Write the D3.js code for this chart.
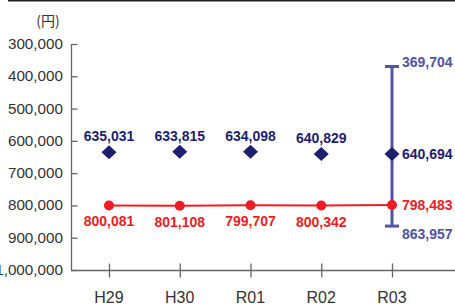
<!DOCTYPE html>
<html><head><meta charset="utf-8">
<script src="https://cdn.jsdelivr.net/npm/d3@7"></script>
<style>
html,body{margin:0;padding:0;background:#fff;}
svg{display:block;}
text{font-family:"Liberation Sans",Arial,Helvetica,sans-serif;}
</style></head>
<body>
<svg id="c" width="455" height="306"></svg>
<script>
const categories = ["H29","H30","R01","R02","R03"];
const blueValues = [635031, 633815, 634098, 640829, 640694];
const redValues = [800081, 801108, 799707, 800342, 798483];
const rangeMax = 369704; // top of bar (smaller value, axis reversed)
const rangeMin = 863957;
const yTicks = [300000,400000,500000,600000,700000,800000,900000,1000000];
const unitLabel = "(円)";

const svg = d3.select("#c");
const navy = "#1e1e6e", slate = "#5353a3", red = "#ee1c24", axisCol = "#666";
const fmt = d3.format(",");

const y = d3.scaleLinear().domain([300000,1000000]).range([44,270]);
const x = d3.scalePoint().domain(categories).range([109,392]);

// top rule
svg.append("line").attr("x1",8).attr("x2",455).attr("y1",0.8).attr("y2",0.8)
  .attr("stroke","#222").attr("stroke-width",1.6);

// unit label
svg.append("text").attr("x",48).attr("y",26).attr("text-anchor","middle")
  .attr("font-size",14).attr("fill","#333")
  .style("font-family","'Noto Sans CJK JP','Liberation Sans',sans-serif").text(unitLabel);

// y axis
const yAxis = d3.axisRight(y).tickValues(yTicks).tickSize(6).tickFormat("");
const gy = svg.append("g").attr("transform","translate(71.5,0)").call(yAxis);
gy.select(".domain").attr("stroke",axisCol).attr("stroke-width",1.3).attr("d","M0,44V270");
gy.selectAll(".tick line").attr("stroke",axisCol).attr("stroke-width",1.3);
svg.append("g").selectAll("text").data(yTicks).join("text")
  .attr("transform",d=>`translate(63,${y(d)+5}) scale(1.09,1)`)
  .attr("text-anchor","end")
  .attr("font-size",14).attr("fill","#333")
  .text(d=>fmt(d));

// x axis
const xAxis = d3.axisBottom(x).tickSize(0).tickFormat("");
const gx = svg.append("g").attr("transform","translate(0,270.5)").call(xAxis);
gx.select(".domain").attr("stroke",axisCol).attr("stroke-width",1.3).attr("d","M71,0H455");
gx.selectAll(".tick line").attr("stroke",axisCol).attr("stroke-width",1.3).attr("y1",-7).attr("y2",7);
svg.append("g").selectAll("text").data(categories).join("text")
  .attr("x",d=>x(d)).attr("y",303).attr("text-anchor","middle")
  .attr("font-size",16).attr("fill","#333").text(d=>d);

// error bar for R03
const xe = x("R03");
const eb = svg.append("g").attr("stroke",slate).attr("stroke-width",3);
eb.append("line").attr("x1",xe).attr("x2",xe).attr("y1",y(rangeMax)).attr("y2",y(rangeMin));
eb.append("line").attr("x1",xe-7).attr("x2",xe+7).attr("y1",y(rangeMax)).attr("y2",y(rangeMax));
eb.append("line").attr("x1",xe-7).attr("x2",xe+7).attr("y1",y(rangeMin)).attr("y2",y(rangeMin));

// red line + points
const data = categories.map((c,i)=>({c, b:blueValues[i], r:redValues[i]}));
svg.append("path").datum(data)
  .attr("d", d3.line().x(d=>x(d.c)).y(d=>y(d.r)))
  .attr("fill","none").attr("stroke",red).attr("stroke-width",2);
svg.append("g").selectAll("circle").data(data).join("circle")
  .attr("cx",d=>x(d.c)).attr("cy",d=>y(d.r)).attr("r",5).attr("fill",red);

// diamonds
svg.append("g").selectAll("path").data(data).join("path")
  .attr("transform",d=>`translate(${x(d.c)},${y(d.b)})`)
  .attr("d","M0,-7L7.5,0L0,7L-7.5,0Z").attr("fill",navy);

const lblFont = 14;
// blue labels (above) for first four
svg.append("g").selectAll("text").data(data.slice(0,4)).join("text")
  .attr("x",d=>x(d.c)).attr("y",d=>y(d.b)-11).attr("text-anchor","middle")
  .attr("font-size",lblFont).attr("font-weight","bold").attr("fill",navy)
  .text(d=>fmt(d.b));
// red labels (below)
svg.append("g").selectAll("text").data(data.slice(0,4)).join("text")
  .attr("x",d=>x(d.c)).attr("y",d=>y(d.r)+21).attr("text-anchor","middle")
  .attr("font-size",lblFont).attr("font-weight","bold").attr("fill",red)
  .text(d=>fmt(d.r));
// R03 labels to the right
const last = data[4];
const lx = xe + 10;
svg.append("text").attr("x",lx).attr("y",y(last.b)+5)
  .attr("font-size",lblFont).attr("font-weight","bold").attr("fill",navy).text(fmt(last.b));
svg.append("text").attr("x",lx).attr("y",y(last.r)+5)
  .attr("font-size",lblFont).attr("font-weight","bold").attr("fill",red).text(fmt(last.r));
svg.append("text").attr("x",lx).attr("y",y(rangeMax))
  .attr("font-size",lblFont).attr("font-weight","bold").attr("fill",slate).text(fmt(rangeMax));
svg.append("text").attr("x",lx).attr("y",y(rangeMin)+13)
  .attr("font-size",lblFont).attr("font-weight","bold").attr("fill",slate).text(fmt(rangeMin));
</script>
</body></html>
